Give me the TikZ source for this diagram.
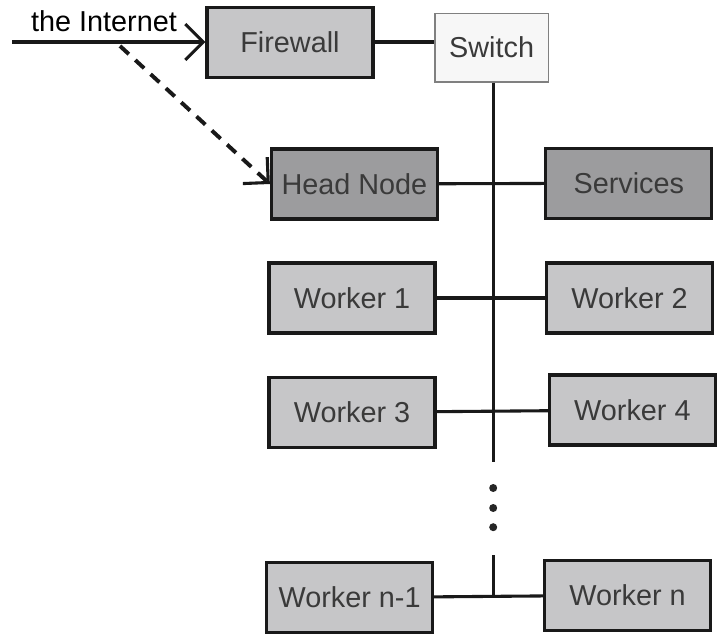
\documentclass[tikz,border=0pt]{standalone}
\usepackage{fontspec}
\setmainfont{Liberation Sans}
\usetikzlibrary{arrows.meta}

\definecolor{boxgray}{HTML}{C6C6C8}
\definecolor{darkbox}{HTML}{9C9C9E}
\definecolor{textgray}{HTML}{3A3A3A}

\begin{document}
\begin{tikzpicture}[font=\fontsize{20.5}{24}\selectfont,
  machine/.style={rectangle,draw=black!90,line width=2.2pt,fill=boxgray,text=textgray,
                  minimum width=4.15cm,minimum height=1.75cm,inner sep=0pt},
  headbox/.style={machine,fill=darkbox},
  switchbox/.style={rectangle,draw=gray,line width=0.8pt,fill=gray!6,text=textgray,
                    minimum width=2.83cm,minimum height=1.72cm,inner sep=0pt},
  wire/.style={draw=black!90,line width=2.2pt},
  barb/.style={-{Straight Barb[length=0.45cm,width=0.9cm,line width=2.2pt]}}]

\useasboundingbox (0,0) rectangle (17.975,-15.85);

\node (fw)   at (7.25,-1.06)  [machine]   {Firewall};
\node (sw)   at (12.29,-1.19) [switchbox] {Switch};
\node (head) at (8.86,-4.6)   [headbox]   {Head Node};
\node (serv) at (15.72,-4.58) [headbox]   {Services};
\node (w1)   at (8.8,-7.45)   [machine]   {Worker 1};
\node (w2)   at (15.74,-7.45) [machine]   {Worker 2};
\node (w3)   at (8.8,-10.31)  [machine]   {Worker 3};
\node (w4)   at (15.81,-10.25)[machine]   {Worker 4};
\node (wn1)  at (8.74,-14.94) [machine]   {Worker n-1};
\node (wn)   at (15.69,-14.88)[machine]   {Worker n};

% the outside link
\coordinate (net) at (0.3,-1.05);
\coordinate (tap) at (3.0,-1.15);
\node (lbl) at (2.6,-0.8) [anchor=base,text=black] {the Internet};
\draw[wire,barb] (net) -- (fw.west |- net);
\draw[wire,barb,line width=2.8pt,dash pattern=on 0.3cm off 0.22cm] (tap) -- (head.west);

% switch and bus
\draw[wire] (fw.east |- 0,-1.05) -- (sw.west |- 0,-1.05);
\coordinate (busend)   at (12.33,-11.55);
\coordinate (busstart) at (12.33,-13.88);
\draw[wire] (sw.south -| busend) -- (busend);
\draw[wire] (busstart) -- (busstart |- wn1);
\foreach \y in {-12.2,-12.7,-13.18}
  \fill[black!85] (12.33,\y) circle (0.1);

\draw[wire] (head) -- (serv);
\draw[wire] (w1) -- (w2);
\draw[wire] (w3) -- (w4);
\draw[wire] (wn1) -- (wn);
\end{tikzpicture}
\end{document}
